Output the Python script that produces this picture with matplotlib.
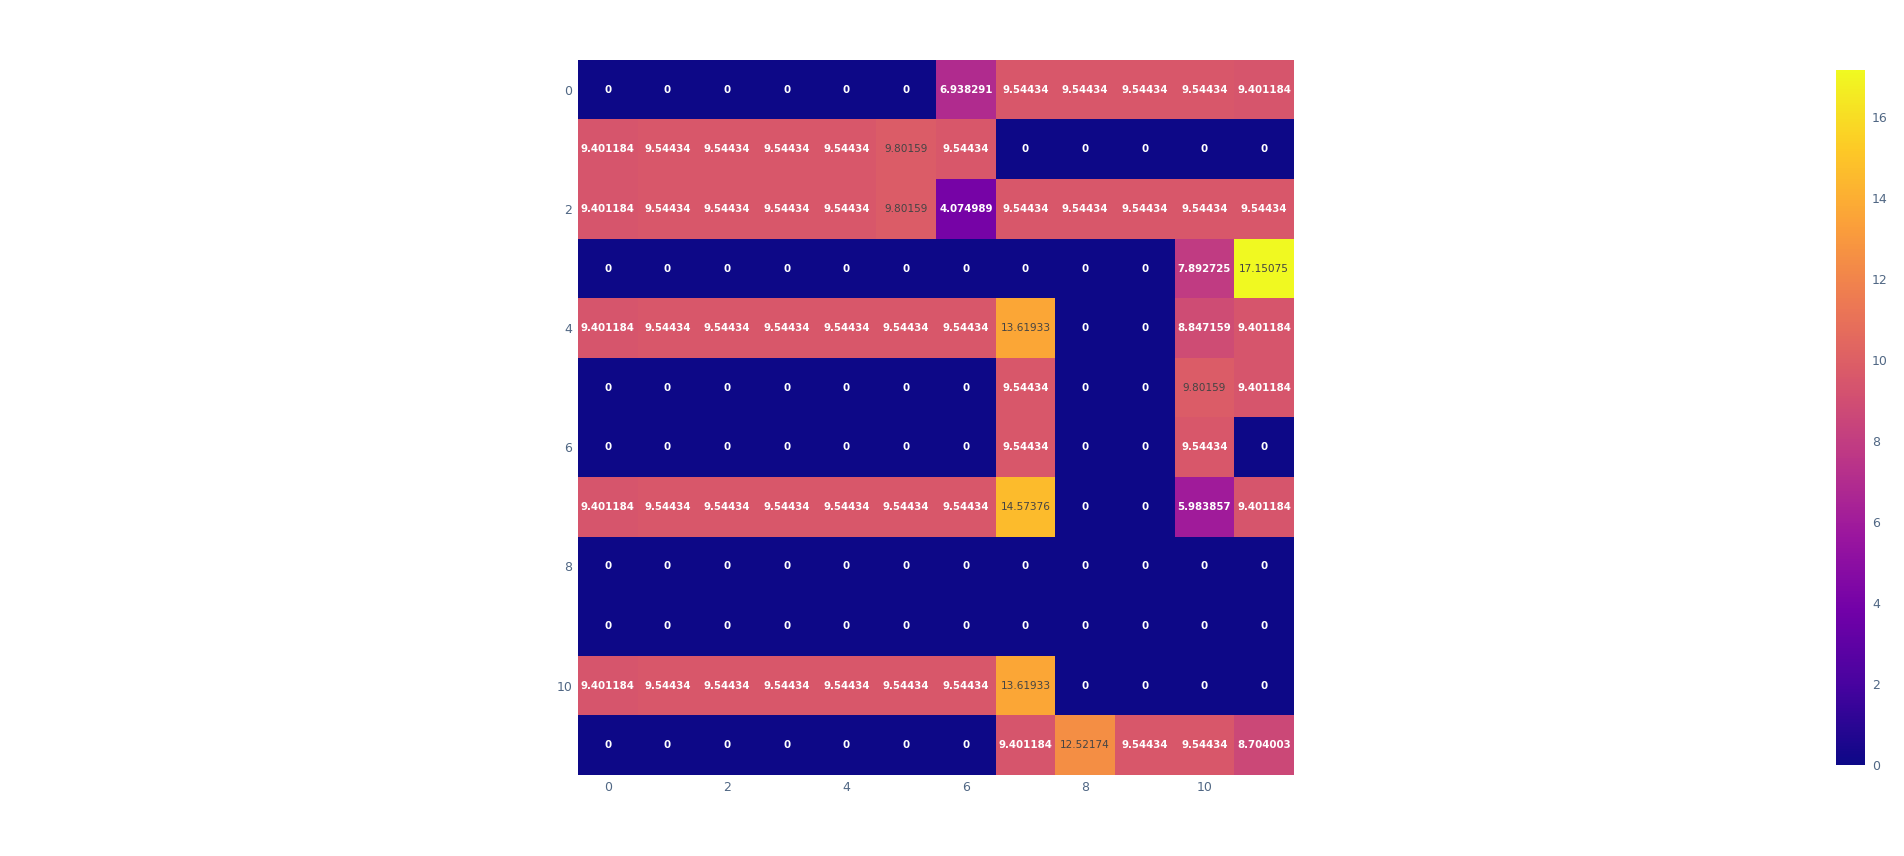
import numpy as np
import matplotlib
matplotlib.use("Agg")
import matplotlib.pyplot as plt
from matplotlib.colors import LinearSegmentedColormap, to_rgb

# heatmap values, row 0 at top
z = [
    [0, 0, 0, 0, 0, 0, 6.938291, 9.54434, 9.54434, 9.54434, 9.54434, 9.401184],
    [9.401184, 9.54434, 9.54434, 9.54434, 9.54434, 9.80159, 9.54434, 0, 0, 0, 0, 0],
    [9.401184, 9.54434, 9.54434, 9.54434, 9.54434, 9.80159, 4.074989, 9.54434, 9.54434, 9.54434, 9.54434, 9.54434],
    [0, 0, 0, 0, 0, 0, 0, 0, 0, 0, 7.892725, 17.15075],
    [9.401184, 9.54434, 9.54434, 9.54434, 9.54434, 9.54434, 9.54434, 13.61933, 0, 0, 8.847159, 9.401184],
    [0, 0, 0, 0, 0, 0, 0, 9.54434, 0, 0, 9.80159, 9.401184],
    [0, 0, 0, 0, 0, 0, 0, 9.54434, 0, 0, 9.54434, 0],
    [9.401184, 9.54434, 9.54434, 9.54434, 9.54434, 9.54434, 9.54434, 14.57376, 0, 0, 5.983857, 9.401184],
    [0, 0, 0, 0, 0, 0, 0, 0, 0, 0, 0, 0],
    [0, 0, 0, 0, 0, 0, 0, 0, 0, 0, 0, 0],
    [9.401184, 9.54434, 9.54434, 9.54434, 9.54434, 9.54434, 9.54434, 13.61933, 0, 0, 0, 0],
    [0, 0, 0, 0, 0, 0, 0, 9.401184, 12.52174, 9.54434, 9.54434, 8.704003],
]
ticks = [0, 2, 4, 6, 8, 10]
cbar_ticks = [0, 2, 4, 6, 8, 10, 12, 14, 16]

plasma = ['#0d0887', '#46039f', '#7201a8', '#9c179e', '#bd3786',
          '#d8576b', '#ed7953', '#fb9f3a', '#fdca26', '#f0f921']
cmap = LinearSegmentedColormap.from_list("plotly_plasma", plasma)

data = np.array(z, dtype=float)
vmin, vmax = 0, data.max()
tick_color = '#506784'

W, H = 1904, 856
fig = plt.figure(figsize=(W / 100, H / 100), dpi=100)
ax = fig.add_axes([578 / W, 1 - 775 / H, 716 / W, 715 / H])
im = ax.imshow(data, cmap=cmap, vmin=vmin, vmax=vmax, aspect='auto',
               interpolation='nearest')

# cell labels, dark text on light cells
norm = plt.Normalize(vmin, vmax)
for i in range(data.shape[0]):
    for j in range(data.shape[1]):
        v = data[i, j]
        r, g, b = to_rgb(cmap(norm(v)))
        bright = (r * 299 + g * 587 + b * 114) / 1000 * 255
        if bright >= 130:
            ax.text(j, i, f"{v:.7g}", ha='center', va='center',
                    color='#444444', fontsize=7.6)
        else:
            ax.text(j, i, f"{v:.7g}", ha='center', va='center',
                    color='white', fontsize=7.4, fontweight='bold')

ax.set_xticks(ticks)
ax.set_yticks(ticks)
ax.tick_params(length=0, labelsize=9, labelcolor=tick_color, pad=4)
for s in ax.spines.values():
    s.set_visible(False)

cax = fig.add_axes([1836 / W, 1 - 765 / H, 29 / W, 695 / H])
cb = fig.colorbar(im, cax=cax, ticks=cbar_ticks)
cb.outline.set_visible(False)
cax.tick_params(length=0, labelsize=9, labelcolor=tick_color, pad=5)

fig.savefig("out.png", dpi=100)
